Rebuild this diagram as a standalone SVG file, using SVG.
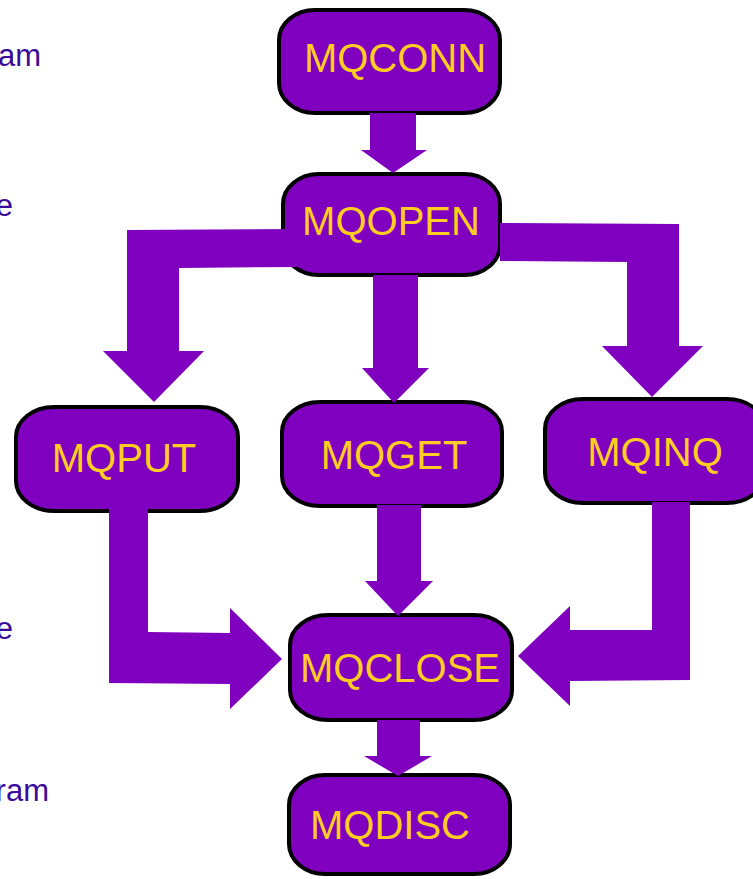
<svg xmlns="http://www.w3.org/2000/svg" width="753" height="879" viewBox="0 0 753 879">
  <style>
    .node rect { fill: #7f00bf; stroke: #000; stroke-width: 4; }
    .node text { fill: #ffcc22; font-family: "Liberation Sans", Arial, sans-serif; font-size: 40px; text-anchor: middle; }
    .flow polygon { fill: #7f00bf; stroke: none; }
    .side { fill: #3a0a9c; font-family: "Liberation Sans", Arial, sans-serif; font-size: 31px; text-anchor: end; }
  </style>

  <!-- clipped side captions -->
  <text class="side" x="41" y="66">am</text>
  <text class="side" x="13" y="216">e</text>
  <text class="side" x="13" y="639">e</text>
  <text class="side" x="49" y="801">ram</text>

  <!-- call nodes -->
  <g id="mqconn" class="node">
    <rect x="279" y="10" width="221" height="103" rx="36" ry="30"/>
    <text x="395" y="72">MQCONN</text>
  </g>
  <g id="mqopen" class="node">
    <rect x="283" y="174" width="217" height="101" rx="36" ry="30"/>
    <text x="391" y="235">MQOPEN</text>
  </g>
  <g id="mqput" class="node">
    <rect x="16" y="407" width="222" height="104" rx="38" ry="30"/>
    <text x="124" y="472">MQPUT</text>
  </g>
  <g id="mqget" class="node">
    <rect x="282" y="402" width="220" height="104" rx="38" ry="30"/>
    <text x="394" y="469">MQGET</text>
  </g>
  <g id="mqinq" class="node">
    <rect x="545" y="399" width="220" height="104" rx="38" ry="30"/>
    <text x="655" y="466">MQINQ</text>
  </g>
  <g id="mqclose" class="node">
    <rect x="290" y="615" width="222" height="105" rx="38" ry="30"/>
    <text x="400" y="682">MQCLOSE</text>
  </g>
  <g id="mqdisc" class="node">
    <rect x="289" y="775" width="221" height="99" rx="36" ry="30"/>
    <text x="390" y="839">MQDISC</text>
  </g>

  <!-- block arrows between calls -->
  <g id="connectors" class="flow">
    <polygon points="370,113 416,113 416,150 427,150 393,173 361,150 370,150"/>
    <polygon points="298,229 127,230 127,351 103,351 154,402 204,351 179,351 179,268 298,267"/>
    <polygon points="373,275 418,275 418,368 429,368 394,403 362,368 373,368"/>
    <polygon points="500,223 679,224 679,346 703,346 652,397 602,346 627,346 627,262 500,261"/>
    <polygon points="109,509 148,509 148,632 230,633 230,608 282,659 230,709 230,684 109,683"/>
    <polygon points="377,505 421,505 421,581 433,581 398,616 365,581 377,581"/>
    <polygon points="652,502 690,502 690,680 570,681 570,706 518,656 570,606 570,630 652,630"/>
    <polygon points="377,720 420,720 420,756 432,756 398,776 364,756 377,756"/>
  </g>
</svg>
